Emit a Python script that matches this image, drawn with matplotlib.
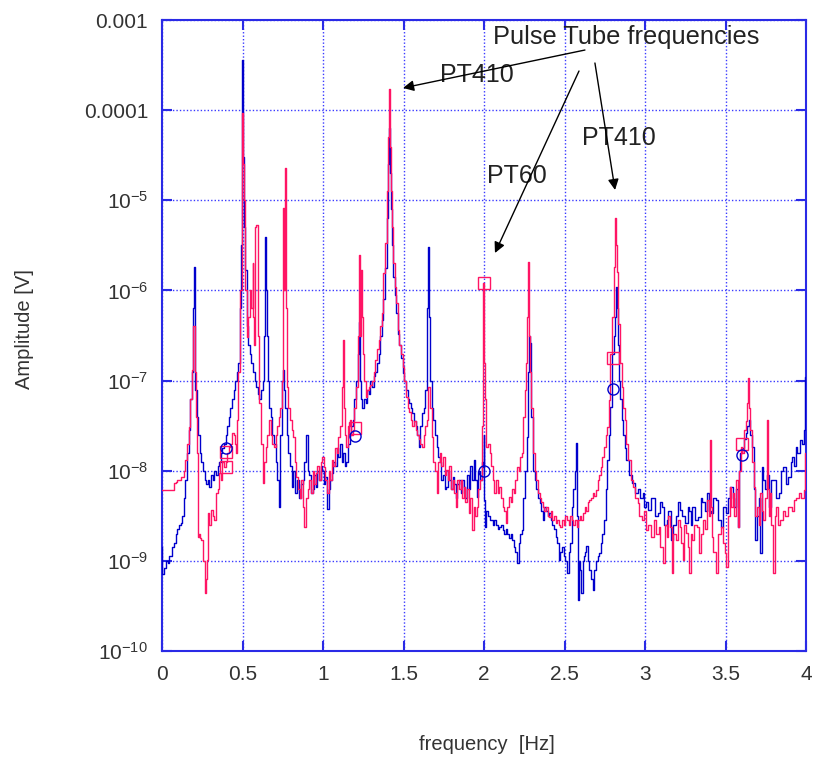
import matplotlib
matplotlib.use('Agg')
import matplotlib.pyplot as plt
from matplotlib.ticker import FixedLocator, FixedFormatter, NullLocator
import numpy as np

# Spectra: (frequency [Hz], log10 amplitude [V])
blue_pts = [
    (0.000, -8.85), (0.005, -9.15), (0.02, -9.08), (0.03, -9.00), (0.04, -9.02), (0.05, -8.95),
    (0.06, -8.95), (0.07, -8.85), (0.08, -8.80), (0.09, -8.70), (0.10, -8.65), (0.11, -8.60),
    (0.12, -8.58), (0.13, -8.50), (0.14, -8.30), (0.15, -8.10), (0.16, -7.80), (0.17, -7.55),
    (0.18, -7.20), (0.19, -6.90), (0.195, -6.20), (0.200, -5.74), (0.205, -6.60), (0.21, -7.10),
    (0.22, -7.40), (0.23, -7.60), (0.24, -7.80), (0.25, -7.90), (0.26, -8.00), (0.27, -8.10),
    (0.28, -8.15), (0.29, -8.10), (0.30, -8.18), (0.31, -8.05), (0.32, -8.10), (0.33, -8.00),
    (0.34, -8.05), (0.35, -7.95), (0.36, -7.90), (0.37, -7.80), (0.38, -7.75), (0.39, -7.70),
    (0.40, -7.60), (0.41, -7.50), (0.42, -7.40), (0.43, -7.30), (0.44, -7.20), (0.45, -7.10),
    (0.46, -7.00), (0.47, -6.90), (0.48, -6.80), (0.49, -6.20), (0.495, -5.50), (0.500, -3.44),
    (0.505, -4.52), (0.51, -5.30), (0.52, -5.77), (0.53, -6.40), (0.54, -6.60), (0.55, -6.70),
    (0.56, -6.80), (0.57, -6.90), (0.58, -7.00), (0.59, -7.07), (0.60, -7.15), (0.61, -7.20),
    (0.62, -7.10), (0.63, -7.00), (0.64, -6.50), (0.645, -5.41), (0.65, -6.00), (0.655, -6.50),
    (0.66, -7.00), (0.67, -7.30), (0.68, -7.40), (0.69, -7.60), (0.70, -7.70), (0.71, -7.90),
    (0.72, -8.10), (0.73, -8.40), (0.74, -7.60), (0.75, -7.00), (0.755, -6.88), (0.76, -7.10),
    (0.77, -7.30), (0.78, -7.60), (0.79, -7.80), (0.80, -7.95), (0.81, -8.18), (0.82, -8.00),
    (0.83, -8.25), (0.845, -8.10), (0.86, -8.30), (0.87, -8.15), (0.88, -8.10), (0.89, -7.90),
    (0.90, -7.60), (0.91, -8.00), (0.92, -8.05), (0.93, -8.25), (0.94, -8.20), (0.95, -8.05),
    (0.96, -8.18), (0.97, -8.00), (0.98, -8.10), (0.99, -7.95), (1.00, -8.00), (1.01, -8.15),
    (1.02, -8.07), (1.03, -8.43), (1.04, -8.20), (1.05, -8.10), (1.06, -8.03), (1.07, -7.90),
    (1.08, -7.95), (1.09, -7.75), (1.10, -7.85), (1.11, -7.70), (1.12, -7.90), (1.13, -7.80),
    (1.14, -7.95), (1.15, -7.90), (1.16, -7.70), (1.17, -7.60), (1.18, -7.50), (1.19, -7.44),
    (1.20, -7.20), (1.21, -7.00), (1.22, -6.70), (1.225, -6.35), (1.23, -6.70), (1.235, -7.00),
    (1.24, -7.20), (1.25, -7.30), (1.26, -7.20), (1.27, -7.25), (1.28, -7.10), (1.29, -7.15),
    (1.30, -7.00), (1.31, -7.07), (1.32, -6.95), (1.33, -6.90), (1.34, -6.80), (1.35, -6.70),
    (1.36, -6.50), (1.37, -6.33), (1.38, -6.10), (1.39, -5.75), (1.40, -5.20), (1.41, -4.60),
    (1.415, -4.20), (1.42, -4.70), (1.425, -5.10), (1.43, -5.50), (1.44, -5.85), (1.45, -6.05),
    (1.46, -6.25), (1.47, -6.48), (1.48, -6.60), (1.49, -6.75), (1.50, -6.92),
    (1.51, -7.00), (1.52, -7.10), (1.53, -7.20), (1.54, -7.25), (1.55, -7.30), (1.56, -7.36),
    (1.57, -7.45), (1.58, -7.50), (1.59, -7.60), (1.60, -7.74), (1.61, -7.50), (1.62, -7.36),
    (1.63, -7.30), (1.64, -7.10), (1.65, -6.20), (1.655, -5.52), (1.66, -6.30), (1.67, -7.00),
    (1.68, -7.30), (1.69, -7.44), (1.70, -7.60), (1.71, -7.74), (1.72, -7.85), (1.73, -7.90),
    (1.74, -8.10), (1.75, -8.05), (1.76, -8.20), (1.77, -8.18), (1.78, -8.00), (1.79, -8.10),
    (1.80, -8.20), (1.81, -8.07), (1.82, -8.15), (1.83, -8.30), (1.84, -8.15), (1.85, -8.10),
    (1.86, -8.25), (1.87, -8.10), (1.88, -8.18), (1.89, -8.30), (1.90, -8.05), (1.91, -8.20),
    (1.92, -7.95), (1.93, -8.10), (1.94, -7.88), (1.95, -8.10), (1.96, -8.29), (1.97, -8.00),
    (1.98, -8.10), (1.99, -7.90), (1.995, -7.96), (2.00, -7.60), (2.005, -8.33), (2.01, -8.62),
    (2.02, -8.45), (2.03, -8.50), (2.04, -8.55), (2.05, -8.55), (2.06, -8.60), (2.07, -8.55),
    (2.08, -8.60), (2.09, -8.65), (2.10, -8.62), (2.11, -8.60), (2.12, -8.66), (2.13, -8.70),
    (2.14, -8.65), (2.15, -8.70), (2.16, -8.75), (2.17, -8.70), (2.18, -8.77), (2.19, -8.85),
    (2.20, -8.90), (2.21, -9.02), (2.22, -8.80), (2.23, -8.70), (2.24, -8.66), (2.25, -8.30),
    (2.26, -8.00), (2.27, -7.63), (2.28, -6.90), (2.285, -6.50), (2.29, -6.58), (2.30, -7.40),
    (2.31, -8.00), (2.32, -8.10), (2.33, -8.20), (2.34, -8.30), (2.35, -8.36), (2.36, -8.45),
    (2.37, -8.55), (2.38, -8.40), (2.39, -8.45), (2.40, -8.50), (2.41, -8.47), (2.42, -8.55),
    (2.43, -8.60), (2.44, -8.65), (2.45, -8.73), (2.46, -8.80), (2.47, -8.99), (2.48, -8.90),
    (2.49, -8.85), (2.50, -8.95), (2.51, -9.00), (2.52, -9.13), (2.53, -8.90), (2.54, -8.80),
    (2.55, -8.40), (2.56, -8.20), (2.565, -8.00), (2.575, -7.69), (2.58, -8.50), (2.585, -9.43),
    (2.59, -9.00), (2.60, -9.10), (2.61, -9.36), (2.62, -9.00), (2.625, -8.95), (2.63, -8.90),
    (2.64, -8.84), (2.65, -9.00), (2.66, -9.10), (2.67, -9.20), (2.68, -9.32), (2.69, -9.10),
    (2.70, -9.00), (2.71, -8.95), (2.72, -8.91), (2.73, -8.80), (2.74, -8.70), (2.75, -8.55),
    (2.76, -8.20), (2.77, -7.88), (2.78, -7.60), (2.79, -7.29), (2.80, -6.70), (2.81, -6.50),
    (2.815, -6.30), (2.825, -5.96), (2.83, -6.20), (2.835, -6.60), (2.84, -7.00), (2.85, -7.20),
    (2.86, -7.44), (2.87, -7.60), (2.88, -7.75), (2.89, -7.88), (2.91, -8.05), (2.93, -8.14),
    (2.95, -8.25), (2.96, -8.20), (2.98, -8.30), (2.99, -8.25), (3.00, -8.40), (3.01, -8.35),
    (3.03, -8.44), (3.04, -8.30), (3.06, -8.30), (3.07, -8.50), (3.09, -8.47), (3.10, -8.35),
    (3.11, -8.40), (3.13, -8.60), (3.14, -8.55), (3.15, -8.45), (3.17, -8.77), (3.18, -8.60),
    (3.20, -8.50), (3.21, -8.35), (3.22, -8.44), (3.24, -8.50), (3.26, -8.58), (3.27, -8.40),
    (3.28, -8.45), (3.29, -8.60), (3.30, -8.40), (3.32, -8.55), (3.34, -8.51), (3.35, -8.30),
    (3.36, -8.35), (3.38, -8.45), (3.39, -8.25), (3.40, -8.45), (3.42, -8.47), (3.43, -8.30),
    (3.45, -8.33), (3.46, -8.55), (3.48, -8.62), (3.49, -8.40), (3.51, -8.47), (3.52, -8.30),
    (3.54, -8.18), (3.55, -8.30), (3.56, -8.40), (3.57, -8.20), (3.58, -8.62), (3.585, -8.00),
    (3.59, -7.80), (3.61, -7.75), (3.62, -7.65), (3.63, -7.58), (3.64, -7.50), (3.65, -7.44),
    (3.66, -7.60), (3.67, -7.74), (3.68, -8.20), (3.69, -8.77), (3.70, -8.50), (3.71, -8.30),
    (3.72, -8.91), (3.73, -7.96), (3.74, -8.10), (3.75, -8.20), (3.76, -8.05), (3.78, -8.40),
    (3.79, -8.10), (3.81, -8.10), (3.82, -8.30), (3.84, -8.25), (3.85, -8.00), (3.87, -7.96),
    (3.88, -8.15), (3.90, -8.07), (3.91, -7.90), (3.92, -7.85), (3.93, -7.95), (3.94, -7.74),
    (3.95, -7.80), (3.97, -7.66), (3.98, -7.70), (3.99, -7.55), (4.00, -6.96),
]

red_pts = [
    (0.00, -8.21), (0.01, -8.21), (0.03, -8.21), (0.05, -8.21), (0.07, -8.21), (0.08, -8.14),
    (0.09, -8.12), (0.10, -8.10), (0.11, -8.10), (0.12, -8.07), (0.13, -8.07), (0.14, -8.00),
    (0.15, -7.88), (0.16, -7.70), (0.17, -7.51), (0.18, -7.20), (0.19, -6.88), (0.20, -6.40),
    (0.205, -6.60), (0.21, -6.90), (0.215, -7.40), (0.22, -7.80), (0.225, -8.73), (0.23, -8.70),
    (0.24, -8.75), (0.25, -8.77), (0.26, -9.00), (0.27, -9.36), (0.275, -9.20), (0.28, -8.99),
    (0.29, -8.47), (0.30, -8.60), (0.31, -8.44), (0.32, -8.50), (0.33, -8.55), (0.34, -8.25),
    (0.35, -8.20), (0.36, -8.03), (0.37, -8.10), (0.38, -7.90), (0.39, -7.96), (0.40, -7.90),
    (0.41, -7.80), (0.42, -7.74), (0.43, -7.70), (0.44, -7.58), (0.45, -7.60), (0.46, -7.70),
    (0.465, -7.80), (0.47, -7.44), (0.48, -6.90), (0.49, -6.00), (0.50, -4.03), (0.505, -4.60),
    (0.51, -5.00), (0.52, -6.00), (0.53, -6.52), (0.54, -6.30), (0.55, -6.00), (0.56, -6.20),
    (0.565, -5.70), (0.57, -6.30), (0.575, -6.60), (0.58, -5.30), (0.59, -5.27), (0.60, -6.50),
    (0.61, -7.25), (0.62, -7.70), (0.63, -8.14), (0.64, -7.90), (0.65, -7.74), (0.66, -7.60),
    (0.67, -7.44), (0.68, -7.60), (0.69, -7.70), (0.70, -7.74), (0.71, -7.60), (0.72, -7.50),
    (0.73, -7.40), (0.74, -7.30), (0.745, -7.25), (0.75, -7.00), (0.755, -5.09), (0.76, -6.00),
    (0.77, -4.64), (0.775, -6.20), (0.78, -7.07), (0.79, -7.30), (0.80, -7.44), (0.81, -7.55),
    (0.82, -7.63), (0.83, -7.90), (0.84, -8.07), (0.85, -8.20), (0.86, -8.30), (0.87, -8.10),
    (0.88, -8.40), (0.89, -8.62), (0.90, -8.30), (0.91, -8.20), (0.92, -8.10), (0.93, -8.25),
    (0.94, -8.00), (0.95, -8.15), (0.96, -8.03), (0.97, -7.95), (0.98, -8.10), (0.99, -7.90),
    (1.00, -7.85), (1.01, -7.96), (1.02, -8.10), (1.03, -8.25), (1.04, -8.00), (1.05, -8.10),
    (1.06, -7.88), (1.07, -7.95), (1.08, -7.75), (1.09, -7.80), (1.10, -7.63), (1.11, -7.50),
    (1.12, -7.07), (1.125, -6.55), (1.13, -7.30), (1.14, -7.60), (1.15, -7.74), (1.16, -7.50),
    (1.17, -7.44), (1.18, -7.60), (1.19, -7.55), (1.20, -7.30), (1.21, -7.07), (1.22, -6.50),
    (1.225, -5.61), (1.23, -6.30), (1.235, -6.50), (1.24, -5.77), (1.245, -6.30), (1.25, -6.70),
    (1.26, -7.00), (1.27, -7.18), (1.28, -7.10), (1.29, -7.07), (1.30, -7.05), (1.31, -7.00),
    (1.32, -6.90), (1.33, -6.77), (1.34, -6.65), (1.35, -6.55), (1.36, -6.40), (1.37, -6.25),
    (1.38, -5.81), (1.39, -5.47), (1.40, -4.90), (1.41, -4.30), (1.415, -3.76), (1.42, -4.41),
    (1.425, -4.90), (1.43, -5.30), (1.44, -5.70), (1.45, -5.96), (1.46, -6.14), (1.47, -6.44),
    (1.48, -6.60), (1.49, -6.70), (1.50, -6.85), (1.51, -7.00), (1.52, -7.18), (1.53, -7.30),
    (1.54, -7.35), (1.55, -7.44), (1.56, -7.50), (1.57, -7.45), (1.58, -7.55), (1.59, -7.60),
    (1.60, -7.65), (1.61, -7.70), (1.62, -7.74), (1.63, -7.60), (1.64, -7.50), (1.65, -7.44),
    (1.66, -7.07), (1.67, -7.30), (1.68, -7.63), (1.69, -7.90), (1.70, -8.00), (1.71, -8.25),
    (1.72, -7.90), (1.73, -7.80), (1.74, -7.95), (1.75, -7.85), (1.76, -8.05), (1.77, -7.99),
    (1.78, -8.10), (1.79, -7.95), (1.80, -8.20), (1.81, -8.10), (1.82, -8.25), (1.83, -8.40),
    (1.84, -8.10), (1.85, -8.20), (1.86, -8.10), (1.87, -8.30), (1.88, -8.18), (1.89, -8.35),
    (1.90, -8.20), (1.91, -8.47), (1.92, -8.30), (1.93, -8.66), (1.94, -8.40), (1.95, -8.50),
    (1.96, -8.40), (1.97, -8.20), (1.98, -8.10), (1.99, -7.50), (2.00, -5.92), (2.005, -6.80),
    (2.01, -7.20), (2.02, -7.74), (2.03, -7.70), (2.04, -7.80), (2.05, -7.95), (2.06, -8.10),
    (2.07, -8.25), (2.08, -8.10), (2.09, -8.25), (2.10, -8.18), (2.11, -8.30), (2.12, -8.40),
    (2.13, -8.45), (2.14, -8.58), (2.15, -8.40), (2.16, -8.29), (2.17, -8.35), (2.18, -8.20),
    (2.19, -8.25), (2.20, -8.10), (2.21, -7.96), (2.22, -8.00), (2.23, -7.85), (2.24, -7.80),
    (2.25, -7.40), (2.26, -7.10), (2.265, -6.80), (2.27, -6.30), (2.275, -5.68), (2.28, -6.00),
    (2.285, -6.50), (2.29, -6.90), (2.30, -7.30), (2.31, -7.80), (2.32, -8.00), (2.33, -8.10),
    (2.34, -8.25), (2.35, -8.30), (2.36, -8.35), (2.37, -8.40), (2.38, -8.45), (2.39, -8.40),
    (2.40, -8.50), (2.41, -8.51), (2.42, -8.45), (2.43, -8.55), (2.44, -8.50), (2.45, -8.58),
    (2.46, -8.55), (2.47, -8.60), (2.48, -8.62), (2.49, -8.55), (2.50, -8.60), (2.51, -8.50),
    (2.52, -8.55), (2.53, -8.60), (2.54, -8.50), (2.55, -8.55), (2.56, -8.60), (2.57, -8.55),
    (2.58, -8.62), (2.59, -8.55), (2.60, -8.50), (2.61, -8.55), (2.62, -8.47), (2.63, -8.40),
    (2.64, -8.45), (2.65, -8.35), (2.66, -8.33), (2.67, -8.30), (2.68, -8.25), (2.69, -8.28),
    (2.70, -8.21), (2.71, -8.10), (2.72, -8.05), (2.73, -7.96), (2.74, -7.85), (2.75, -7.74),
    (2.76, -7.60), (2.77, -7.51), (2.78, -7.22), (2.79, -6.70), (2.80, -6.30), (2.81, -5.74),
    (2.82, -5.20), (2.825, -5.50), (2.83, -5.80), (2.84, -6.37), (2.85, -6.80), (2.86, -7.07),
    (2.87, -7.30), (2.88, -7.44), (2.89, -7.70), (2.90, -7.88), (2.92, -8.10), (2.93, -8.18),
    (2.95, -8.30), (2.96, -8.36), (2.97, -8.50), (2.99, -8.55), (3.00, -8.45), (3.01, -8.66),
    (3.03, -8.60), (3.05, -8.73), (3.06, -8.55), (3.08, -8.70), (3.09, -8.62), (3.10, -8.85),
    (3.12, -9.02), (3.13, -8.60), (3.14, -8.73), (3.15, -8.50), (3.16, -8.62), (3.17, -9.13),
    (3.18, -8.70), (3.20, -8.77), (3.21, -8.55), (3.22, -8.62), (3.23, -8.80), (3.24, -8.99),
    (3.25, -8.60), (3.26, -8.69), (3.27, -8.85), (3.28, -9.13), (3.29, -8.70), (3.30, -8.77),
    (3.31, -8.60), (3.33, -8.62), (3.34, -8.91), (3.35, -8.70), (3.37, -8.55), (3.38, -8.65),
    (3.39, -8.33), (3.40, -8.50), (3.41, -7.66), (3.415, -8.40), (3.42, -8.73), (3.43, -8.90),
    (3.45, -9.13), (3.46, -8.70), (3.48, -8.62), (3.49, -8.80), (3.50, -8.91), (3.51, -9.07),
    (3.52, -8.50), (3.53, -8.18), (3.54, -8.40), (3.55, -8.25), (3.56, -8.50), (3.57, -8.10),
    (3.58, -8.62), (3.59, -8.00), (3.60, -7.74), (3.61, -7.80), (3.62, -7.55), (3.63, -7.45),
    (3.64, -7.25), (3.645, -6.97), (3.65, -7.30), (3.66, -7.55), (3.67, -7.90), (3.68, -8.18),
    (3.69, -8.50), (3.70, -8.40), (3.71, -8.60), (3.72, -8.25), (3.73, -8.45), (3.74, -8.55),
    (3.75, -8.30), (3.76, -7.44), (3.765, -8.20), (3.77, -8.50), (3.78, -8.25), (3.79, -8.60),
    (3.80, -9.13), (3.81, -8.50), (3.82, -8.40), (3.83, -8.60), (3.85, -8.55), (3.86, -8.45),
    (3.88, -8.50), (3.90, -8.40), (3.92, -8.45), (3.93, -8.33), (3.95, -8.30), (3.96, -8.25),
    (3.98, -8.30), (3.99, -8.21), (4.00, -7.80),
]

# harmonic markers
sq_f = [0.40, 0.40, 1.20, 2.00, 2.80, 3.60]
sq_amp = [1.1e-8, 1.6e-8, 3.0e-8, 1.2e-6, 1.8e-7, 2.0e-8]
circ_f = [0.40, 1.20, 2.00, 2.80, 3.60]
circ_amp = [1.8e-8, 2.4e-8, 1.0e-8, 8.0e-8, 1.5e-8]

ytick_vals = [1e-10, 1e-9, 1e-8, 1e-7, 1e-6, 1e-5, 1e-4, 1e-3]
ytick_labels = ['$10^{-10}$', '$10^{-9}$', '$10^{-8}$', '$10^{-7}$', '$10^{-6}$', '$10^{-5}$',
                '0.0001', '0.001']
xtick_vals = [0, 0.5, 1, 1.5, 2, 2.5, 3, 3.5, 4]
xtick_labels = ['0', '0.5', '1', '1.5', '2', '2.5', '3', '3.5', '4']

plt.rcParams['font.family'] = ['Liberation Sans', 'DejaVu Sans']
plt.rcParams['mathtext.fontset'] = 'custom'
plt.rcParams['mathtext.rm'] = 'Liberation Sans'
plt.rcParams['mathtext.it'] = 'Liberation Sans'
plt.rcParams['axes.unicode_minus'] = False

col_blue = '#0000cc'
col_red = '#ff1464'
col_axis = '#2a2ae6'
col_text = '#333333'

fig = plt.figure(figsize=(8.15, 7.58), dpi=100)
ax = fig.add_axes([162 / 815, 1 - 651 / 758, 644 / 815, 631 / 758])

blue_f, blue_log = np.array(blue_pts).T
red_f, red_log = np.array(red_pts).T
ax.plot(blue_f, 10 ** blue_log, color=col_blue, lw=1.0, drawstyle='steps-mid', zorder=3)
ax.plot(red_f, 10 ** red_log, color=col_red, lw=1.0, drawstyle='steps-mid', zorder=4)
ax.plot(sq_f, sq_amp, linestyle='None', marker='s', markersize=8, markerfacecolor='none',
        markeredgecolor=col_red, markeredgewidth=1.0, zorder=5)
ax.plot(circ_f, circ_amp, linestyle='None', marker='o', markersize=8, markerfacecolor='none',
        markeredgecolor=col_blue, markeredgewidth=1.0, zorder=5)

ax.set_yscale('log')
ax.set_xlim(0, 4)
ax.set_ylim(1e-10, 1e-3)
ax.yaxis.set_major_locator(FixedLocator(ytick_vals))
ax.yaxis.set_major_formatter(FixedFormatter(ytick_labels))
ax.yaxis.set_minor_locator(NullLocator())
ax.xaxis.set_major_locator(FixedLocator(xtick_vals))
ax.xaxis.set_major_formatter(FixedFormatter(xtick_labels))

ax.grid(True, which='major', color='#3a3aff', linestyle=(0, (1, 1.5)), lw=1.0, zorder=1)
for sp in ax.spines.values():
    sp.set_color(col_axis)
    sp.set_linewidth(1.5)
ax.tick_params(axis='both', which='major', direction='in', length=7, width=1.5,
               color=col_axis, top=True, right=True, labelsize=15, labelcolor=col_text, pad=10)

# labels
fig.text(487 / 815, 1 - 745 / 758, 'frequency  [Hz]', ha='center', va='center',
         fontsize=14.5, color=col_text)
fig.text(25 / 815, 1 - 329 / 758, 'Amplitude [V]', ha='center', va='center', rotation=90,
         fontsize=14.5, color=col_text)

# annotations
ax.text(2.056, 10 ** -3.189, 'Pulse Tube frequencies', fontsize=18.3, color='#222222',
        ha='left', va='center', zorder=6)
ax.text(1.727, 10 ** -3.61, 'PT410', fontsize=18, color='#222222', ha='left', va='center', zorder=6)
ax.text(2.019, 10 ** -4.73, 'PT60', fontsize=18, color='#222222', ha='left', va='center', zorder=6)
ax.text(2.609, 10 ** -4.31, 'PT410', fontsize=18, color='#222222', ha='left', va='center', zorder=6)

arrow_kw = dict(arrowstyle='-|>', color='black', lw=1.0, mutation_scale=16, shrinkA=0, shrinkB=0)
ax.annotate('', xy=(1.497, 10 ** -3.754), xytext=(2.627, 10 ** -3.333), arrowprops=arrow_kw, zorder=6)
ax.annotate('', xy=(2.068, 10 ** -5.585), xytext=(2.59, 10 ** -3.566), arrowprops=arrow_kw, zorder=6)
ax.annotate('', xy=(2.814, 10 ** -4.886), xytext=(2.689, 10 ** -3.477), arrowprops=arrow_kw, zorder=6)

fig.savefig('out.png', dpi=100)
